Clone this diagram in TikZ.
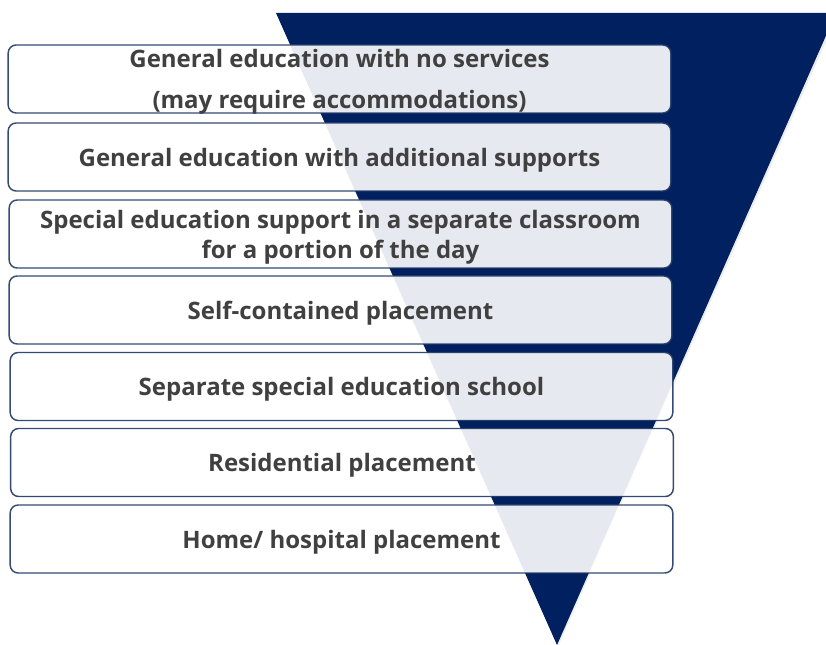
\documentclass[tikz,border=0pt]{standalone}
\usepackage{fontspec}
\setmainfont{Open Sans}

\definecolor{navyfill}{RGB}{0,32,96}
\definecolor{boxline}{RGB}{31,56,100}
\definecolor{labeltext}{RGB}{64,64,64}

\tikzset{
  levelbox/.style={draw=boxline, line width=1.1pt, fill=white, fill opacity=0.9, draw opacity=0.9,
    text opacity=1, rounded corners=6pt, minimum width=497pt, minimum height=51pt,
    inner sep=0pt, align=center, text=labeltext, text depth=0pt,
    font=\bfseries\fontsize{18}{22.5}\selectfont}
}

\begin{document}
\begin{tikzpicture}[x=0.75pt,y=0.75pt,yscale=-1,xscale=1]
				\useasboundingbox (0,0) rectangle (826,645);

				%Shape: Triangle shadow
				\fill [black, opacity=0.07] (277.5,14.5) -- (838,14.5) -- (558,646.5) -- cycle ;
				%Shape: Triangle
				\fill [navyfill] (276,13) -- (836,13) -- (557,645) -- cycle ;

				% Text Node
				\node [levelbox] (gennone) at (339.5,79) {General education with no services\\[8.5pt](may require accommodations)};
				% Text Node
				\node [levelbox] (gensupp) at (339.5,157) {General education with additional supports};
				% Text Node
				\node [levelbox] (sepclass) at (340.5,234) {Special education support in a separate classroom\\for a portion of the day};
				% Text Node
				\node [levelbox] (selfcont) at (340.5,310) {Self-contained placement};
				% Text Node
				\node [levelbox] (sepschool) at (341.5,386.5) {Separate special education school};
				% Text Node
				\node [levelbox] (resid) at (342,462.5) {Residential placement};
				% Text Node
				\node [levelbox] (homehosp) at (341.5,539) {Home/ hospital placement};

		\end{tikzpicture}
\end{document}
